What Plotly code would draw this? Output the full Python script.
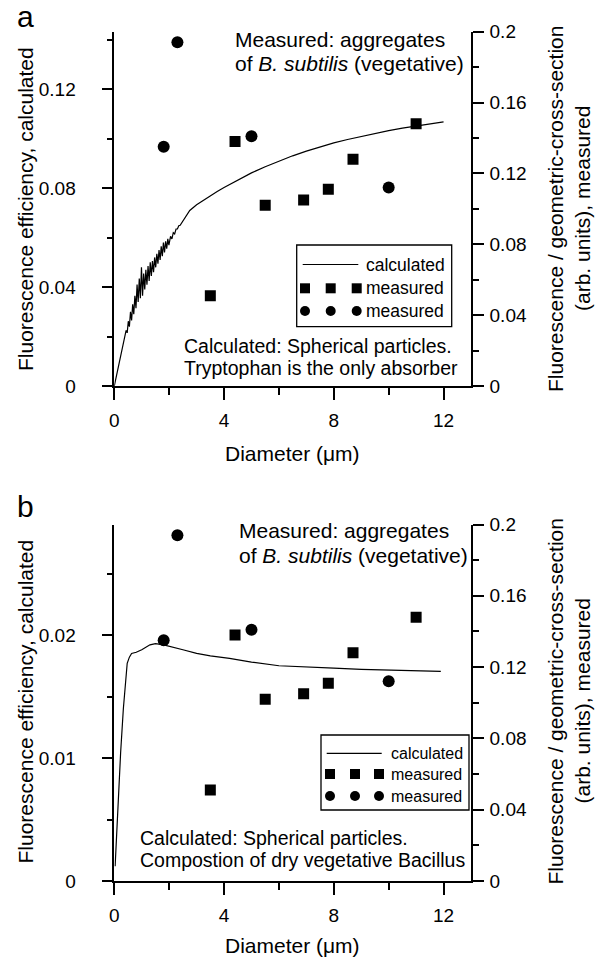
import plotly.graph_objects as go

# ---------------- data ----------------
# measured (right axis) – same in both panels
sq_x = [3.5, 4.4, 5.5, 6.9, 7.8, 8.7, 11.0]
sq_y = [0.051, 0.138, 0.102, 0.105, 0.111, 0.128, 0.148]
ci_x = [1.8, 2.3, 5.0, 10.0]
ci_y = [0.135, 0.194, 0.141, 0.112]

# panel a: calculated (left axis) – tryptophan only absorber
calc_a_x = [0, 0.1, 0.2, 0.3, 0.39,
            0.43, 0.47, 0.51, 0.55, 0.59, 0.63, 0.67, 0.71, 0.75, 0.79,
            0.83, 0.87, 0.91, 0.95, 0.99, 1.03, 1.07, 1.11, 1.15, 1.19,
            1.23, 1.27, 1.31, 1.35, 1.39, 1.43, 1.47, 1.51, 1.55, 1.59,
            1.63, 1.67, 1.71, 1.75, 1.79, 1.83, 1.87, 1.91, 1.95, 1.99,
            2.05, 2.10, 2.15, 2.20, 2.25, 2.30, 2.35, 2.40,
            2.50, 2.75, 3.00, 3.25, 3.50, 3.75, 4.00, 4.50, 5.00, 5.50,
            6.00, 6.50, 7.00, 7.50, 8.00, 8.50, 9.00, 9.50, 10.0, 10.5,
            11.0, 11.5, 12.0]
calc_a_y = [0, 0.0052, 0.0104, 0.0156, 0.0200,
            0.0225, 0.0215, 0.0262, 0.0240, 0.0300, 0.0265, 0.0330, 0.0290, 0.0365, 0.0315,
            0.0410, 0.0340, 0.0435, 0.0355, 0.0480, 0.0365, 0.0455, 0.0390, 0.0470, 0.0410,
            0.0485, 0.0425, 0.0500, 0.0445, 0.0505, 0.0460, 0.0520, 0.0480, 0.0535, 0.0495,
            0.0550, 0.0510, 0.0565, 0.0525, 0.0580, 0.0540, 0.0585, 0.0555, 0.0595, 0.0570,
            0.0605, 0.0595, 0.0620, 0.0615, 0.0635, 0.0635, 0.0648, 0.0650,
            0.0668, 0.0710, 0.0733, 0.0752, 0.0770, 0.0787, 0.0803, 0.0834, 0.0862, 0.0887,
            0.0910, 0.0931, 0.0950, 0.0967, 0.0983, 0.0997, 0.1010, 0.1022, 0.1033, 0.1043,
            0.1052, 0.1060, 0.1068]

# panel b: calculated (left axis) – composition of dry vegetative Bacillus
calc_b_x = [0.03, 0.11, 0.23, 0.33, 0.39, 0.43, 0.47, 0.55, 0.63, 0.8,
            1.0, 1.3, 1.5, 1.8, 2.0, 2.5, 3.0, 3.5, 4.2, 5.0,
            6.0, 6.8, 8.0, 9.0, 10.0, 11.0, 11.9]
calc_b_y = [0.0012, 0.0050, 0.0104, 0.0140, 0.0158, 0.0170, 0.0177, 0.0182, 0.0185, 0.0186,
            0.0188, 0.0192, 0.0193, 0.0192, 0.0191, 0.0188, 0.0185, 0.0183, 0.0181, 0.0178,
            0.0175, 0.0174, 0.0173, 0.0172, 0.01715, 0.0171, 0.01705]

# tick labels
x_ticks = [0, 4, 8, 12]
x_labels = ["0", "4", "8", "12"]
ya_ticks = [0, 0.04, 0.08, 0.12]
ya_labels = ["0", "0.04", "0.08", "0.12"]
yb_ticks = [0, 0.01, 0.02]
yb_labels = ["0", "0.01", "0.02"]
yr_ticks = [0, 0.04, 0.08, 0.12, 0.16, 0.2]
yr_labels = ["0", "0.04", "0.08", "0.12", "0.16", "0.2"]

# ---------------- layout helpers ----------------
W, H = 599, 960
FONT = "Arial, Liberation Sans, sans-serif"


def px(x):
    return x / W


def py(y):
    return 1 - y / H


tickfont = dict(family=FONT, size=19, color="black")


def xax(anchor, dtick_minor, rng):
    return dict(domain=[px(114.3), px(471)], range=rng, anchor=anchor,
                showline=True, linecolor="black", linewidth=1.5,
                ticks="outside", ticklen=12, tickwidth=1.5, tickcolor="black",
                tickmode="array", tickvals=x_ticks, ticktext=x_labels,
                minor=dict(tick0=0, dtick=dtick_minor, ticks="outside", ticklen=7,
                           tickwidth=1.5, tickcolor="black"),
                showgrid=False, zeroline=False, tickfont=tickfont,
                automargin=False, ticklabelstandoff=4, fixedrange=True)


def yax(anchor, domain, rng, tv, tt, minor, side="left", overlaying=None, standoff=8):
    d = dict(range=rng, anchor=anchor, side=side,
             showline=True, linecolor="black", linewidth=1.5,
             ticks="outside", ticklen=11, tickwidth=1.5, tickcolor="black",
             tickmode="array", tickvals=tv, ticktext=tt,
             minor=dict(tick0=0, dtick=minor, ticks="outside", ticklen=6,
                        tickwidth=1.5, tickcolor="black"),
             showgrid=False, zeroline=False, tickfont=tickfont,
             automargin=False, ticklabelstandoff=standoff, fixedrange=True)
    if overlaying:
        d["overlaying"] = overlaying
    else:
        d["domain"] = domain
    return d


fig = go.Figure()

# panel a
fig.add_trace(go.Scatter(x=calc_a_x, y=calc_a_y, xaxis="x", yaxis="y", mode="lines",
                         line=dict(color="black", width=1.2), name="calculated"))
fig.add_trace(go.Scatter(x=sq_x, y=sq_y, xaxis="x", yaxis="y2", mode="markers",
                         marker=dict(symbol="square", size=11, color="black"), name="measured"))
fig.add_trace(go.Scatter(x=ci_x, y=ci_y, xaxis="x", yaxis="y2", mode="markers",
                         marker=dict(symbol="circle", size=12, color="black"), name="measured"))
# panel b
fig.add_trace(go.Scatter(x=calc_b_x, y=calc_b_y, xaxis="x2", yaxis="y3", mode="lines",
                         line=dict(color="black", width=1.2), name="calculated"))
fig.add_trace(go.Scatter(x=sq_x, y=sq_y, xaxis="x2", yaxis="y4", mode="markers",
                         marker=dict(symbol="square", size=11, color="black"), name="measured"))
fig.add_trace(go.Scatter(x=ci_x, y=ci_y, xaxis="x2", yaxis="y4", mode="markers",
                         marker=dict(symbol="circle", size=12, color="black"), name="measured"))

ya_top = 0.12 * (386 - 31.7) / (386 - 89.3)
yb_top = 0.02 * (881 - 524.5) / (881 - 635)

fig.update_layout(
    width=W, height=H,
    margin=dict(l=0, r=0, t=0, b=0),
    paper_bgcolor="white", plot_bgcolor="white",
    showlegend=False,
    xaxis=xax("y", 2, [0, 13]),
    yaxis=yax("x", [py(386), py(31.7)], [0, ya_top], ya_ticks, ya_labels, 0.02, standoff=22),
    yaxis2=yax("x", None, [0, 0.2], yr_ticks, yr_labels, 0.02, side="right", overlaying="y",
               standoff=2),
    xaxis2=xax("y3", 2, [0, 13]),
    yaxis3=yax("x2", [py(881), py(524.5)], [0, yb_top], yb_ticks, yb_labels, 0.005, standoff=22),
    yaxis4=yax("x2", None, [0, 0.2], yr_ticks, yr_labels, 0.02, side="right", overlaying="y3",
               standoff=2),
)

annotations = []
shapes = []


def txt(x, y, text, size, xanchor="left", angle=0):
    annotations.append(dict(x=px(x), y=py(y), xref="paper", yref="paper", text=text,
                            showarrow=False, xanchor=xanchor, yanchor="middle",
                            textangle=angle,
                            font=dict(family=FONT, size=size, color="black")))


# panel labels
txt(25, 17, "a", 30, "center")
txt(25, 507, "b", 30, "center")

# panel a texts
txt(233, 40, "Measured: aggregates", 21)
txt(233, 63, "of <i>B. subtilis</i> (vegetative)", 21)
txt(181.7, 346, "Calculated: Spherical particles.", 19.5)
txt(181.7, 368, "Tryptophan is the only absorber", 19.5)
# panel b texts
txt(236.7, 530, "Measured: aggregates", 21)
txt(236.7, 555, "of <i>B. subtilis</i> (vegetative)", 21)
txt(138.3, 838, "Calculated: Spherical particles.", 19.5)
txt(138.3, 860, "Compostion of dry vegetative Bacillus", 19.5)

# axis titles
for yc in (209, 701.5):
    txt(25, yc, "Fluorescence efficiency, calculated", 21, "center", -90)
    txt(555, yc, "Fluorescence / geometric-cross-section", 21, "center", -90)
    txt(582, yc, "(arb. units), measured", 21, "center", -90)
txt(292, 453, "Diameter (μm)", 21, "center")
txt(292, 945, "Diameter (μm)", 21, "center")


# legends (drawn as decoration)
def legend(x0, x1, y0, y1, lx0, lx1, tx, rows, mx, msize, fsize):
    shapes.append(dict(type="rect", xref="paper", yref="paper",
                       x0=px(x0), x1=px(x1), y0=py(y1), y1=py(y0),
                       line=dict(color="black", width=1.3), fillcolor="white", layer="below"))
    shapes.append(dict(type="line", xref="paper", yref="paper",
                       x0=px(lx0), x1=px(lx1), y0=py(rows[0]), y1=py(rows[0]),
                       line=dict(color="black", width=1.2)))
    txt(tx, rows[0], "calculated", fsize)
    txt(tx, rows[1], "measured", fsize)
    txt(tx, rows[2], "measured", fsize)
    h = msize / 2
    for cx in mx:
        shapes.append(dict(type="rect", xref="paper", yref="paper",
                           x0=px(cx - h), x1=px(cx + h), y0=py(rows[1] + h), y1=py(rows[1] - h),
                           line=dict(width=0), fillcolor="black"))
        shapes.append(dict(type="circle", xref="paper", yref="paper",
                           x0=px(cx - h), x1=px(cx + h), y0=py(rows[2] + h), y1=py(rows[2] - h),
                           line=dict(width=0), fillcolor="black"))


legend(296.7, 451.7, 245, 326.7, 302.7, 358.3, 364, [264.5, 288.3, 311],
       [305, 330.7, 356.7], 10, 17.5)
legend(321, 469, 735, 810, 326.7, 381.7, 389, [753.3, 774, 796],
       [330, 355, 379], 10, 16)

fig.update_layout(annotations=annotations, shapes=shapes)

fig.write_html("out.html")
